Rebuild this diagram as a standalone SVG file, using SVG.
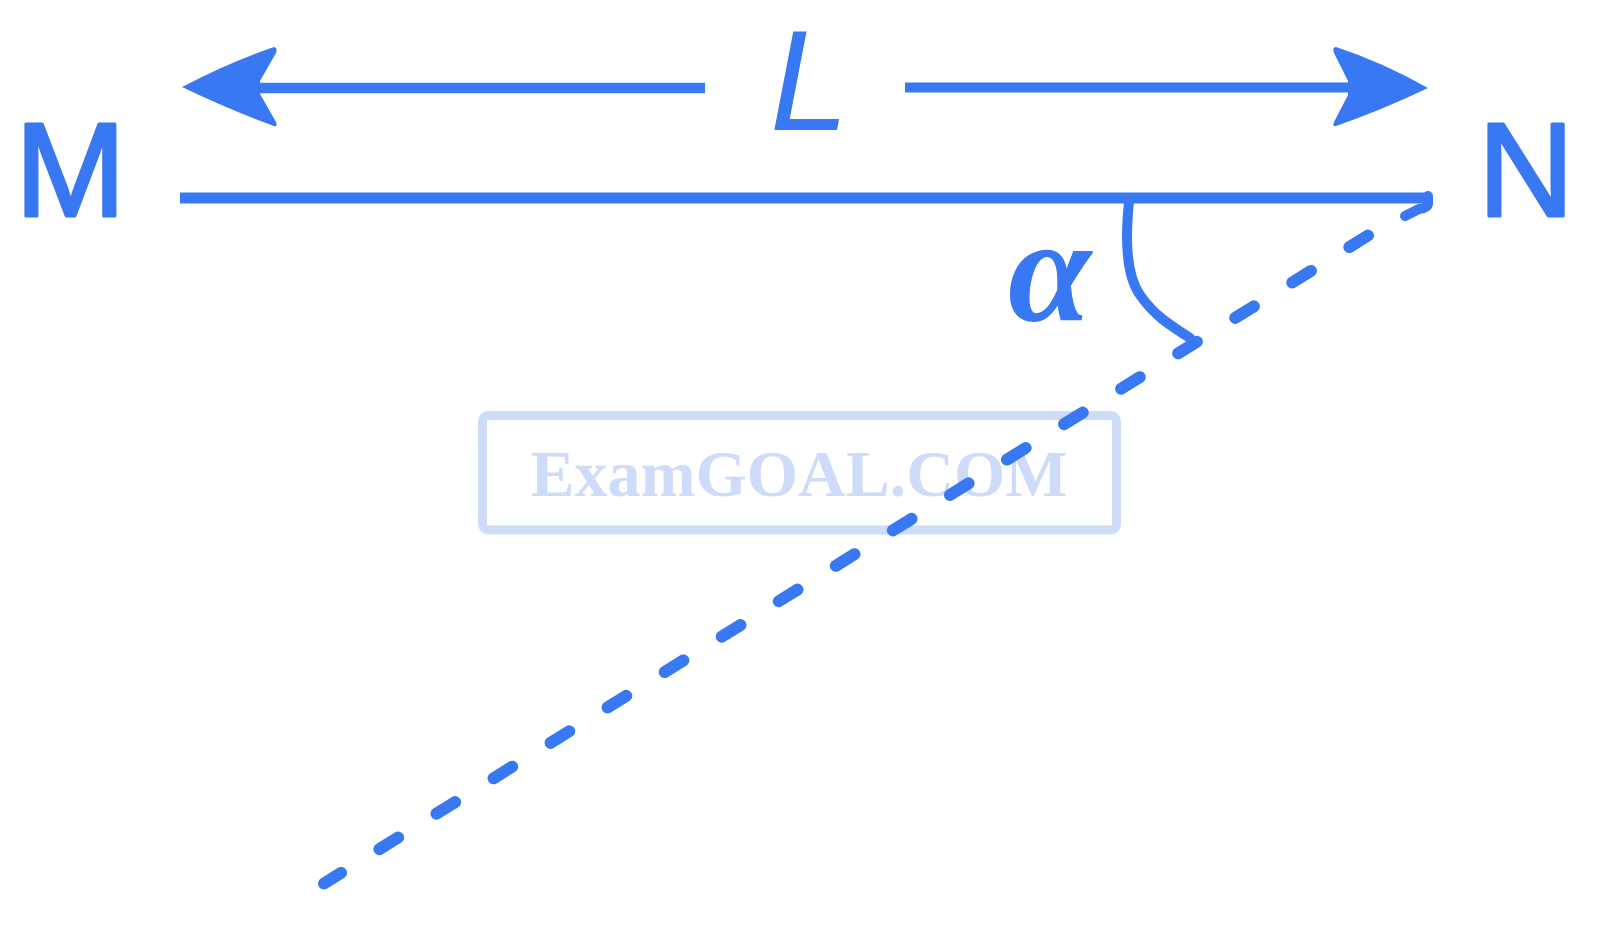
<svg xmlns="http://www.w3.org/2000/svg" width="1600" height="946" viewBox="0 0 1600 946">
<style>
.ink{fill:#3878F2}
.stk{fill:none;stroke:#3878F2;stroke-linecap:round;stroke-linejoin:round}
.butt{stroke-linecap:butt}
.lbl{font-family:"Liberation Sans",Arial,sans-serif;fill:#3878F2}
.heavy{stroke:#3878F2;stroke-width:3;stroke-linejoin:round}
.wm{fill:none;stroke:#CEDCF9;stroke-width:9}
.wmt{font-family:"Liberation Serif","Times New Roman",serif;font-weight:bold;fill:#CEDCF9}
</style>
<rect width="1600" height="946" fill="#FFFFFF"/>
<g id="watermark">
<rect class="wm" x="482.5" y="415.5" width="634" height="114.5" rx="6"/>
<text class="wmt" x="799" y="496" font-size="66" text-anchor="middle">ExamGOAL.COM</text>
</g>
<g id="connectors">
<g id="arrow-left">
<path class="stk butt" d="M250 88 L705 88" stroke-width="10.5"/>
<path class="ink" d="M182 87 Q230 62 274 47 Q278 48 276 53 L260 81 L260 94 L276 122 Q278 127 274 126 Q230 110 182 87 Z"/>
</g>
<g id="arrow-right">
<path class="stk butt" d="M905 87.5 L1358 87.5" stroke-width="10"/>
<path class="ink" d="M1428 88 Q1382 62 1336 47 Q1332 47 1334 53 L1348 81 L1348 95 L1334 122 Q1332 127 1336 126 Q1382 110 1428 88 Z"/>
</g>
<path id="line-MN" class="stk butt" d="M180 198 L1431 198" stroke-width="11"/>
<path id="hook" class="stk" d="M1428 196 L1428 204 Q1427 208 1419 209 L1405 216" stroke-width="10"/>
<path id="dashed" class="stk" d="M1368 235.5 L324 883.5" stroke-width="12" stroke-dasharray="22 45.15"/>
<path id="angle-arc" class="stk" d="M1129 202 C1125 240 1126 275 1140 295 S1168 324 1190 338" stroke-width="10"/>
</g>
<g id="node-M"><text class="lbl heavy" x="15" y="216" font-size="133">M</text></g>
<g id="node-N"><text class="lbl heavy" x="1478" y="216" font-size="133">N</text></g>
<g id="label-L"><text class="lbl" x="770" y="130" font-size="142" font-style="italic">L</text></g>
<g id="label-alpha"><text x="1008" y="321" font-size="150" font-style="italic" font-weight="bold" font-family="'Liberation Serif','Times New Roman',serif" fill="#3878F2">α</text></g>
</svg>
